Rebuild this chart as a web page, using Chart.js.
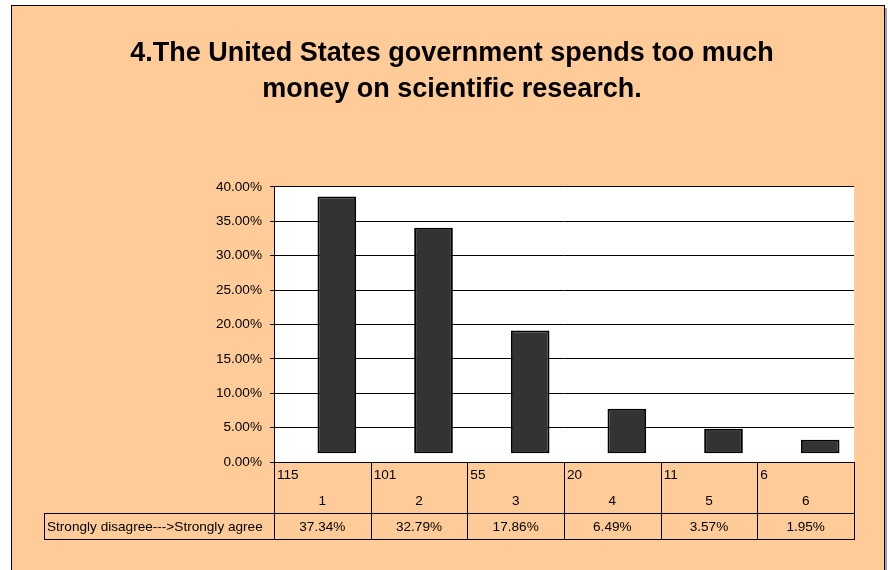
<!DOCTYPE html>
<html>
<head>
<meta charset="utf-8">
<script src="https://cdn.jsdelivr.net/npm/chart.js@4.4.0/dist/chart.umd.min.js"></script>
<style>
  html, body { margin: 0; padding: 0; background: #fff; }
  canvas { display: block; }
</style>
</head>
<body>
<canvas id="surveyChart" width="888" height="570"></canvas>
<script>
const titleLines = ['4.The United States government spends too much', 'money on scientific research.'];
const categories = ['1', '2', '3', '4', '5', '6'];
const counts = [115, 101, 55, 20, 11, 6];
const shares = [37.34, 32.79, 17.86, 6.49, 3.57, 1.95];
const seriesName = 'Strongly disagree--->Strongly agree';
const yTickValues = [0, 5, 10, 15, 20, 25, 30, 35, 40];

// Excel draws the bars slightly lifted and pushed right of the category centre
const barLift = 1.27;
const barShift = 0.15;

const FONT = "'Liberation Sans', Arial, sans-serif";
const PEACH = '#ffcc99';
const SMALL = 13.6;

const ctx = document.getElementById('surveyChart').getContext('2d');

const framePlugin = {
  id: 'frame',
  beforeDraw(chart) {
    const { ctx, chartArea } = chart;
    ctx.save();
    ctx.fillStyle = '#fff';
    ctx.fillRect(0, 0, chart.width, chart.height);
    ctx.fillStyle = '#a0a0a0';
    ctx.fillRect(885, 8, 2, chart.height);
    ctx.fillStyle = PEACH;
    ctx.fillRect(11, 5, 873, chart.height);
    ctx.strokeStyle = '#000';
    ctx.lineWidth = 1;
    ctx.strokeRect(11.5, 5.5, 873, chart.height + 10);
    ctx.fillStyle = '#fff';
    ctx.fillRect(chartArea.left, chartArea.top, chartArea.right - chartArea.left, chartArea.bottom - chartArea.top);
    ctx.restore();
  }
};

const tablePlugin = {
  id: 'dataTable',
  afterDraw(chart) {
    const { ctx, chartArea } = chart;
    const cell = (chartArea.right - chartArea.left) / categories.length;
    const top = Math.round(chartArea.bottom);
    const mid = top + 51;
    const bottom = top + 77;
    const labelLeft = 44;

    ctx.save();
    ctx.strokeStyle = '#000';
    ctx.lineWidth = 1;
    ctx.beginPath();
    ctx.moveTo(labelLeft, mid + 0.5);
    ctx.lineTo(chartArea.right, mid + 0.5);
    ctx.moveTo(labelLeft, bottom + 0.5);
    ctx.lineTo(chartArea.right, bottom + 0.5);
    ctx.moveTo(labelLeft + 0.5, mid);
    ctx.lineTo(labelLeft + 0.5, bottom);
    for (let i = 0; i <= categories.length; i++) {
      const px = Math.round(chartArea.left + i * cell) + 0.5;
      ctx.moveTo(px, top);
      ctx.lineTo(px, bottom + 1);
    }
    ctx.stroke();

    ctx.fillStyle = '#000';
    ctx.font = SMALL + 'px ' + FONT;
    ctx.textBaseline = 'middle';
    ctx.textAlign = 'left';
    counts.forEach((n, i) => {
      ctx.fillText(String(n), chartArea.left + i * cell + 3, top + 13);
    });
    ctx.fillText(seriesName, labelLeft + 3, mid + 14);
    ctx.textAlign = 'center';
    shares.forEach((v, i) => {
      ctx.fillText(v.toFixed(2) + '%', chartArea.left + (i + 0.5) * cell, mid + 14);
    });
    ctx.restore();
  }
};

const chart = new Chart(ctx, {
  type: 'bar',
  data: {
    labels: categories,
    datasets: [{
      label: seriesName,
      xAxisID: 'xb',
      data: shares.map((v, i) => ({ x: i + barShift, y: [barLift, barLift + v] })),
      backgroundColor: '#333333',
      borderColor: '#000',
      borderWidth: 2,
      borderSkipped: false,
      barPercentage: 0.4,
      categoryPercentage: 1
    }]
  },
  options: {
    responsive: false,
    animation: false,
    devicePixelRatio: 1,
    layout: { padding: { left: 50, right: 34, top: 0, bottom: 57 } },
    scales: {
      x: {
        type: 'category',
        position: 'bottom',
        grid: { display: false, drawTicks: false },
        border: { display: true, color: '#000', width: 1 },
        ticks: { color: '#000', font: { family: FONT, size: SMALL }, padding: 31 },
        afterFit(scale) { scale.height = 51; }
      },
      xb: {
        type: 'linear',
        display: false,
        offset: false,
        grid: { offset: false },
        min: -0.5,
        max: categories.length - 0.5,
        afterBuildTicks(scale) { scale.ticks = categories.map((c, i) => ({ value: i })); }
      },
      y: {
        min: 0,
        max: 40,
        afterBuildTicks(scale) { scale.ticks = yTickValues.map(v => ({ value: v })); },
        ticks: {
          color: '#000',
          font: { family: FONT, size: SMALL },
          padding: 8,
          callback: v => v.toFixed(2) + '%'
        },
        grid: { color: '#000', lineWidth: 1, tickLength: 4 },
        border: { display: true, color: '#000', width: 1 },
        afterFit(scale) { scale.width = 224; }
      }
    },
    plugins: {
      legend: { display: false },
      tooltip: { enabled: false },
      title: {
        display: true,
        text: titleLines,
        color: '#000',
        font: { family: FONT, size: 27, weight: 'bold', lineHeight: 1.333 },
        padding: { top: 36, bottom: 79 }
      }
    }
  },
  plugins: [framePlugin, tablePlugin]
});
</script>
</body>
</html>
